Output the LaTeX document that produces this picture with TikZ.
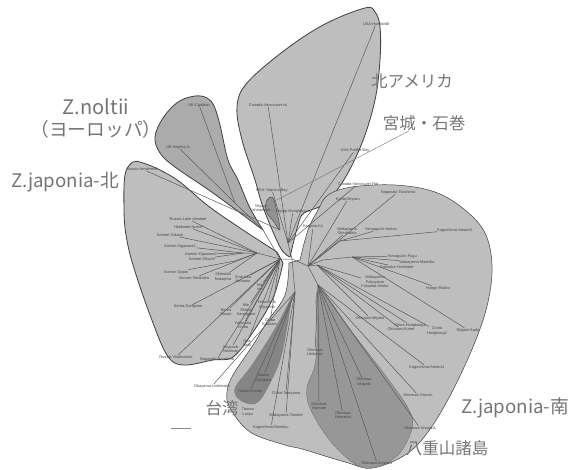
\documentclass[tikz,border=0pt]{standalone}
\usepackage{fontspec}
\setmainfont{Noto Sans CJK JP}
\newfontfamily\leaffont{Liberation Sans}
\definecolor{blobgray}{HTML}{BEBEBE}
\definecolor{noltiigray}{HTML}{ABABAB}
\definecolor{yaeyamagray}{HTML}{979797}
\definecolor{taiwangray}{HTML}{858585}
\definecolor{inkgray}{HTML}{757575}

\begin{document}
\begin{tikzpicture}[x=1pt, y=-1pt,
    blob/.style={fill=blobgray, draw=black!75, line width=0.8pt},
    branch/.style={draw=black!65, line width=0.5pt},
    leaf/.style={inner sep=0.3pt, align=center, text=black!72, font=\leaffont\fontsize{3.9}{4.5}\selectfont},
    bigtext/.style={inner sep=0pt, align=center, text=inkgray, font=\fontsize{16.5}{21}\selectfont},
    wordtext/.style={bigtext, font=\fontsize{18.7}{22}\selectfont}]

\useasboundingbox (0,0) rectangle (569,470);


\draw[blob, fill=noltiigray] plot[smooth, tension=0.6] coordinates {(263,230) (213,193) (175,167) (160,153) (155,137) (163,118) (178,102) (195,96) (207,98) (214,106) (220,125) (228,160) (238,180) (250,208) (263,230)} -- cycle;

\draw[blob] plot[smooth, tension=0.6] coordinates {(290,257) (280,247) (263,207) (255,180) (242,140) (237,107) (247,83) (285,50) (325,24) (365,8) (375,12) (380,27) (380,60) (375,100) (362,143) (342,183) (322,205) (304,213) (298,225) (290,257)} -- cycle;

\draw[blob] plot[smooth, tension=0.6] coordinates {(277,252) (240,228) (207,205) (180,182) (160,170) (143,163) (133,162) (125,175) (124,210) (126,235) (133,265) (150,315) (167,355) (183,365) (213,360) (233,357) (253,332) (273,298) (283,263)} -- cycle;

\draw[blob, line width=0.5pt] plot[smooth, tension=0.6] coordinates {(300,260) (308,230) (318,210) (328,195) (352,187) (395,185) (435,192) (465,210) (485,233) (492,265) (488,302) (475,342) (452,392) (428,432) (405,455) (372,468) (345,462) (302,449) (285,445) (250,432) (230,408) (227,392) (233,375) (253,345) (267,322) (285,295) (289,263)} -- cycle;

\draw[blob, fill=noltiigray!85!black, line width=0.4pt] plot[smooth cycle, tension=0.6] coordinates {(280,230) (277,212) (273,198) (267,200) (266,211) (274,222)};

\draw[blob, fill=taiwangray, line width=0.3pt, draw=black!50] plot[smooth, tension=0.6] coordinates {(292,296) (282,353) (270,383) (258,402) (246,403) (236,396) (236,386) (252,365) (276,327) (292,296)} -- cycle;

\draw[blob, fill=yaeyamagray, line width=0.4pt, draw=black!55] plot[smooth cycle, tension=0.6] coordinates {(320,290) (328,298) (352,332) (385,375) (408,408) (412,428) (398,455) (372,468) (352,462) (328,438) (310,408) (307,388) (315,365) (317,335) (316,298)};


\coordinate (hubM) at (292,259);
\coordinate (hubN) at (280,259);
\coordinate (hubNa) at (257,253);
\coordinate (hubNb) at (243,253);
\coordinate (hubNc) at (235,261);
\coordinate (hubA) at (288,243);
\coordinate (hubZ) at (235,203);
\coordinate (hubZt) at (263,230);
\coordinate (hubS) at (308,266);
\coordinate (hubRa) at (340,241);
\coordinate (hubRb) at (352,257);
\coordinate (hubRc) at (323,260);
\coordinate (hubRd) at (317,265);
\coordinate (hubT) at (295,292);
\coordinate (hubY) at (318,285);
\coordinate (miyagiTip) at (277,200);

\draw[branch] (hubM) -- (hubN) -- (hubNa) -- (hubNb);
\draw[branch] (hubNa) -- (hubNc);
\draw[branch] (hubM) -- (hubA);
\draw[branch] (hubZ) -- (hubZt) -- (hubN);
\draw[branch] (hubM) -- (hubS) -- (hubRc) -- (hubRb);
\draw[branch] (hubS) -- (hubRa);
\draw[branch] (hubS) -- (hubRd);
\draw[branch] (hubM) -- (hubT);
\draw[branch] (hubS) -- (hubY);


\node[leaf] (ukCa) at (199,105) {UK-Cgalbon};
\node[leaf] (ukHa) at (178,147) {UK-Hayling Is};
\draw[branch] (ukCa) -- (hubZ);
\draw[branch] (ukHa) -- (hubZ);


\node[leaf] (usHu) at (376,24) {USA-Humboldt};
\node[leaf] (caIs) at (268,105) {Canada-Vancouver Isl};
\node[leaf] (usYa) at (272,190) {USA-Yaquina Bay};
\node[leaf] (usPa) at (355,150) {USA-Padilla Bay};
\node[leaf] (caPo) at (358,184) {Canada-Vancouver Pot};
\node[leaf] (myIs) at (261,208) {Miyagi\\Ishinomaki};
\node[leaf] (myMa) at (293,211) {Miyagi-Mangokuura};
\draw[branch] (usHu) -- (hubA);
\draw[branch] (caIs) -- (hubA);
\draw[branch] (usYa) -- (hubA);
\draw[branch] (usPa) -- (hubA);
\draw[branch] (caPo) -- (hubA);
\draw[branch] (myMa) -- (hubA);


\node[leaf] (ruAm) at (142,169) {Russia-Amdermal};
\node[leaf] (ruLa) at (188,219) {Russia-Lake Ainskoe};
\node[leaf] (hoNo) at (188,227) {Hokkaido-Notori};
\node[leaf] (aoTa) at (170,235) {Aomori-Takase};
\node[leaf] (aoOa) at (180,246) {Aomori-Ogawara1};
\node[leaf] (aoOb) at (201,254) {Aomori-Ogawara2};
\node[leaf] (aoOc) at (202,259) {Aomori-Obuchi};
\node[leaf] (aoOp) at (176,272) {Aomori-Oppin};
\node[leaf] (aoTk) at (194,278) {Aomori-Takahoko};
\node[leaf] (shNa) at (223,277) {Shimoda\\Nakajima};
\node[leaf] (shHa) at (243,279) {Shizuoka\\Hamana};
\node[leaf] (miIs) at (260,287) {Mie\\Ise};
\node[leaf] (koGa) at (188,307) {Korea-Gangwon};
\node[leaf] (koBu) at (226,312) {Korea\\Busan};
\node[leaf] (ruVl) at (176,357) {Russia-Vladivostok};
\node[leaf] (naTs) at (217,359) {Nagasaki-Tsushima};
\node[leaf] (miNi) at (231,349) {Miyazaki\\Nichinan};
\node[leaf] (miSh) at (246,310) {Mie\\Shima\\Kanagawa};
\node[leaf] (yoCh) at (243,325) {Yokosuka\\Chiba};
\node[leaf] (oiSa) at (247,343) {Oita\\Saiki};
\node[leaf] (hiMi) at (267,305) {Hiroshima\\Miyajima};
\node[leaf] (chKi) at (270,322) {Chiba\\Kisarazu};
\draw[branch] (ruAm) -- (hubZt -| hubN);
\draw[branch] (ruLa) -- (hubNa);
\draw[branch] (hoNo) -- (hubNa);
\draw[branch] (aoTa) -- (hubNa);
\draw[branch] (aoOa) -- (hubNb);
\draw[branch] (aoOb) -- (hubNb);
\draw[branch] (aoOc) -- (hubNb);
\draw[branch] (aoOp) -- (hubNc);
\draw[branch] (aoTk) -- (hubNa);
\draw[branch] (shNa) -- (hubNa);
\draw[branch] (shHa) -- (hubN);
\draw[branch] (miIs) -- (hubN);
\draw[branch] (koGa) -- (hubN);
\draw[branch] (koBu) -- (hubN);
\draw[branch] (ruVl) -- (hubN);
\draw[branch] (naTs) -- (hubN);
\draw[branch] (miNi) -- (hubN);
\draw[branch] (miSh) -- (hubN);
\draw[branch] (yoCh) -- (hubN);
\draw[branch] (oiSa) -- (hubN);
\draw[branch] (hiMi) -- (hubN);
\draw[branch] (chKi) -- (hubN);


\node[leaf] (naTo) at (398,192) {Nagasaki-Tsushima};
\node[leaf] (kyMi) at (348,199) {Kyoto-Miyazu};
\node[leaf] (kaKy) at (313,227) {Kagawa-Ky};
\node[leaf] (waSh) at (347,231) {Wakayama\\Shirahama};
\node[leaf] (yaHa) at (381,229) {Yamaguchi-Hakon};
\node[leaf] (kaAm) at (455,230) {Kagoshima-Amami2};
\node[leaf] (yaFu) at (402,256) {Yamaguchi-Fugu};
\node[leaf] (waMa) at (417,262) {Wakayama-Mashiko};
\node[leaf] (fuYo) at (397,267) {Fukuoka-Yoshitake};
\node[leaf] (hyRo) at (438,288) {Hyogo-Rokko};
\node[leaf] (niSa) at (468,330) {Niigata-Sado};
\node[leaf] (waFu) at (375,282) {Wakayama\\Fukuyama\\Fukuoka-Aitako};
\node[leaf] (okMi) at (370,318) {Okinawa-Miyako};
\node[leaf] (chHa) at (410,325) {China-Hongkong1};
\node[leaf] (okKu) at (401,329) {Okinawa-Kume};
\node[leaf] (chHb) at (437,331) {China\\Hongkong2};
\draw[branch] (naTo) -- (hubS);
\draw[branch] (kyMi) -- (hubS);
\draw[branch] (kaKy) -- (hubS);
\draw[branch] (waSh) -- (hubS);
\draw[branch] (yaHa) -- (hubRa);
\draw[branch] (kaAm) -- (hubRa);
\draw[branch] (yaFu) -- (hubRb);
\draw[branch] (waMa) -- (hubRb);
\draw[branch] (fuYo) -- (hubRb);
\draw[branch] (hyRo) -- (hubRb);
\draw[branch] (niSa) -- (hubRb);
\draw[branch] (waFu) -- (hubRd);
\draw[branch] (okMi) -- (hubRd);
\draw[branch] (chHa) -- (hubRd);
\draw[branch] (okKu) -- (hubRd);
\draw[branch] (chHb) -- (hubRd);


\node[leaf] (okUs) at (212,386) {Okayama-Ushimado};
\node[leaf] (twKi) at (250,391) {Taiwan-Kinshi};
\node[leaf] (twGo) at (263,378) {Taiwan\\Gongliao};
\node[leaf] (twLa) at (248,412) {Taiwan\\Lanyu};
\node[leaf] (chTa) at (286,393) {Chiba-Tateyama};
\node[leaf] (waTa) at (286,415) {Wakayama-Tanabe};
\node[leaf] (kaBo) at (271,427) {Kagoshima-Bonotsu};
\draw[branch] (okUs) -- (hubT);
\draw[branch] (twKi) -- (hubT);
\draw[branch] (twGo) -- (hubT);
\draw[branch] (chTa) -- (hubT);
\draw[branch] (waTa) -- (hubT);
\draw[branch] (kaBo) -- (hubT);


\node[leaf] (okIs) at (315,352) {Okinawa\\Ishikawa};
\node[leaf] (okIr) at (319,406) {Okinawa\\Iriomote};
\node[leaf] (okHa) at (343,415) {Okinawa\\Hamatori};
\node[leaf] (okIa) at (364,382) {Okinawa\\Ishigaki};
\node[leaf] (okIb) at (420,428) {Okinawa-Ishigaki1};
\node[leaf] (okAm) at (377,463) {Okinawa-Amami1};
\node[leaf] (okOr) at (418,395) {Okinawa-Oracon};
\node[leaf] (kaAn) at (427,367) {Kagoshima-Amami1};
\draw[branch] (okIs) -- (hubY);
\draw[branch] (okIr) -- (hubY);
\draw[branch] (okHa) -- (hubY);
\draw[branch] (okIa) -- (hubY);
\draw[branch] (okIb) -- (hubY);
\draw[branch] (okAm) -- (hubY);
\draw[branch] (okOr) -- (hubY);
\draw[branch] (kaAn) -- (hubY);


\coordinate (barL) at (171,428);
\coordinate (barR) at (191,428);
\draw[black!45, line width=1pt] (barL) -- (barR);


\node[wordtext] (noltii) at (96,118) {{\fontsize{20}{22}\selectfont Z.noltii}\\（ヨーロッパ）};
\node[wordtext] (japN) at (65,182) {Z.japonia-北};
\node[bigtext] (amer) at (412,81) {北アメリカ};
\node[bigtext] (ishi) at (424,123) {宮城・石巻};
\node[bigtext] (taiw) at (222,408) {台湾};
\node[wordtext] (japS) at (515,408) {Z.japonia-南};
\node[bigtext] (yaey) at (447,448) {八重山諸島};

\draw[black!55, line width=0.4pt] (ishi) -- (miyagiTip);

\end{tikzpicture}
\end{document}
